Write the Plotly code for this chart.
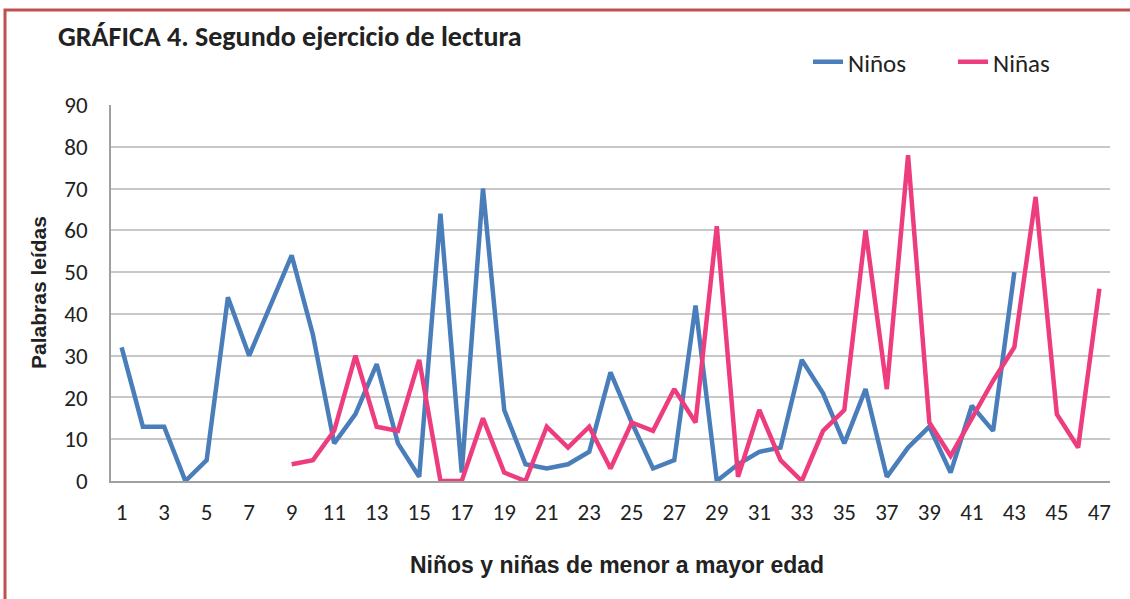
import plotly.graph_objects as go

# Data
ninos_x = list(range(1, 44))
ninos = [32, 13, 13, 0, 5, 44, 30, 42, 54, 35,
         9, 16, 28, 9, 1, 64, 2, 70, 17, 4,
         3, 4, 7, 26, 14, 3, 5, 42, 0, 4,
         7, 8, 29, 21, 9, 22, 1, 8, 13, 2,
         18, 12, 50]
ninas_x = list(range(9, 48))
ninas = [4, 5, 12, 30, 13, 12, 29, 0, 0, 15,
         2, 0, 13, 8, 13, 3, 14, 12, 22, 14,
         61, 1, 17, 5, 0, 12, 17, 60, 22, 78,
         14, 6, 15, 24, 32, 68, 16, 8, 46]
x_ticks = list(range(1, 48, 2))
y_ticks = list(range(0, 91, 10))

W, H = 1130, 599
L, R, T, B = 111, 20, 105, 118
pw, ph = W - L - R, H - T - B


def px(x):
    return (x - L) / pw


def py(y):
    return (H - B - y) / ph


calibri = "Carlito, Liberation Sans Narrow, Open Sans"
tick_font = dict(family=calibri, size=23, color="#222")

fig = go.Figure()
fig.add_trace(go.Scatter(x=ninos_x, y=ninos, mode="lines", name="Niños",
                         line=dict(color="#4a7ebb", width=4.5)))
fig.add_trace(go.Scatter(x=ninas_x, y=ninas, mode="lines", name="Niñas",
                         line=dict(color="#ee3d7f", width=4.5)))

fig.update_xaxes(range=[0.5, 47.5], tickvals=x_ticks, showgrid=False, zeroline=False,
                 showline=True, linecolor="#a0a0a0", linewidth=1.5,
                 tickfont=tick_font, ticklabelstandoff=10)
fig.update_yaxes(range=[0, 90], tickvals=y_ticks, showgrid=True, gridcolor="#c8c8c8",
                 gridwidth=1.5, zeroline=False, showline=True, linecolor="#a0a0a0",
                 linewidth=1.5, tickfont=tick_font, ticklabelstandoff=17)

fig.update_layout(
    width=W, height=H, margin=dict(l=L, r=R, t=T, b=B),
    plot_bgcolor="white", paper_bgcolor="white",
    legend=dict(orientation="h", x=px(808), y=py(62), xanchor="left", yanchor="middle",
                entrywidth=100, font=dict(family=calibri, size=25, color="#222"),
                bgcolor="rgba(0,0,0,0)"),
    annotations=[
        dict(text="<b>GRÁFICA 4. Segundo ejercicio de lectura</b>", xref="paper", yref="paper",
             x=px(56), y=py(37), xanchor="left", yanchor="middle", showarrow=False,
             font=dict(family=calibri, size=28, color="#222")),
        dict(text="<b>Palabras leídas</b>", xref="paper", yref="paper", x=px(38), y=py(293),
             xanchor="center", yanchor="middle", textangle=-90, showarrow=False,
             font=dict(family="Liberation Sans, Arial", size=21, color="#222")),
        dict(text="<b>Niños y niñas de menor a mayor edad</b>", xref="paper", yref="paper",
             x=px(617), y=py(565), xanchor="center", yanchor="middle", showarrow=False,
             font=dict(family="Liberation Sans, Arial", size=23, color="#222")),
    ],
    shapes=[dict(type="rect", xref="paper", yref="paper", x0=px(5), x1=px(1145),
                 y0=py(610), y1=py(10), line=dict(color="#c0504d", width=3))],
)

fig.write_html("out.html", config={"displayModeBar": False},
               post_script="document.body.style.margin='0';")
